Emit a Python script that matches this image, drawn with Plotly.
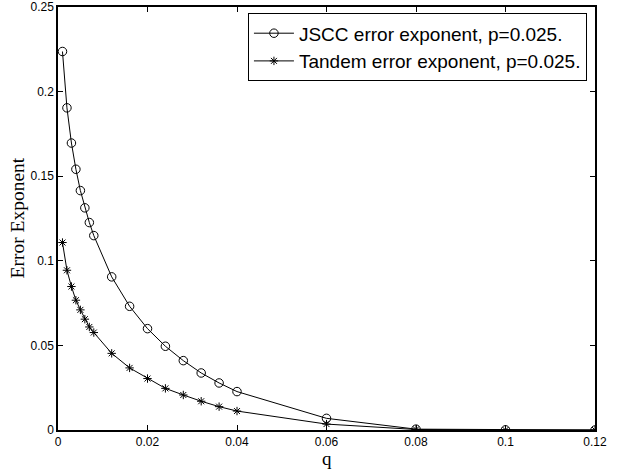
import plotly.graph_objects as go

q = [0.001, 0.002, 0.003, 0.004, 0.005, 0.006, 0.007, 0.008,
     0.012, 0.016, 0.020, 0.024, 0.028, 0.032, 0.036, 0.040,
     0.06, 0.08, 0.10, 0.12]
jscc = [0.2237, 0.1904, 0.1696, 0.1541, 0.1415, 0.1313, 0.1226, 0.1149,
        0.0905, 0.0731, 0.0599, 0.0495, 0.0410, 0.0337, 0.0278, 0.0227,
        0.0069, 0.0005, 0.0001, 0.0]
tandem = [0.1108, 0.0944, 0.0848, 0.0767, 0.0710, 0.0655, 0.0609, 0.0576,
          0.0453, 0.0367, 0.0304, 0.0246, 0.0207, 0.0170, 0.0138, 0.0112,
          0.0035, 0.0003, 0.0, 0.0]
x_ticks = [0, 0.02, 0.04, 0.06, 0.08, 0.10, 0.12]
x_labels = ["0", "0.02", "0.04", "0.06", "0.08", "0.1", "0.12"]
y_ticks = [0, 0.05, 0.10, 0.15, 0.20, 0.25]
y_labels = ["0", "0.05", "0.1", "0.15", "0.2", "0.25"]

serif = "Liberation Serif, Times New Roman, serif"
sans = "Liberation Sans, Arial, sans-serif"

fig = go.Figure()
fig.add_trace(go.Scatter(
    x=q, y=jscc, mode="lines+markers",
    name="JSCC error exponent, p=0.025.",
    line=dict(color="black", width=1),
    marker=dict(symbol="circle-open", size=8.5, color="black", line=dict(width=1))))
fig.add_trace(go.Scatter(
    x=q, y=tandem, mode="lines+markers",
    name="Tandem error exponent, p=0.025.",
    line=dict(color="black", width=1),
    marker=dict(symbol="asterisk-open", size=7, color="black", line=dict(width=1))))

axis_common = dict(
    showline=True, linecolor="black", linewidth=1.5, mirror="ticks",
    ticks="inside", ticklen=5, tickcolor="black", showgrid=False, zeroline=False,
    automargin=False,
    tickfont=dict(family=sans, size=12, color="black"),
)
fig.update_xaxes(range=[0, 0.12], tickvals=x_ticks, ticktext=x_labels, **axis_common)
fig.update_yaxes(range=[0, 0.25], tickvals=y_ticks, ticktext=y_labels, **axis_common)

fig.add_annotation(text="q", xref="paper", yref="paper", x=0.5, y=0,
                   yshift=-28, xanchor="center", yanchor="middle", showarrow=False,
                   font=dict(family=serif, size=19, color="black"))
fig.add_annotation(text="Error Exponent", xref="paper", yref="paper", x=0, y=0.5,
                   xshift=-41, xanchor="center", yanchor="middle", showarrow=False,
                   textangle=-90, font=dict(family=serif, size=19.5, color="black"))

fig.update_layout(
    width=618, height=469,
    margin=dict(l=58, r=23, t=7, b=39),
    plot_bgcolor="white", paper_bgcolor="white",
    showlegend=True,
    legend=dict(x=0.985, y=0.985, xanchor="right", yanchor="top",
                bgcolor="white", bordercolor="black", borderwidth=1,
                font=dict(family=sans, size=19, color="black"),
                tracegroupgap=0, itemwidth=40),
)

fig.write_html("out.html", config={"displayModeBar": False},
               post_script="document.body.style.margin='0';")
